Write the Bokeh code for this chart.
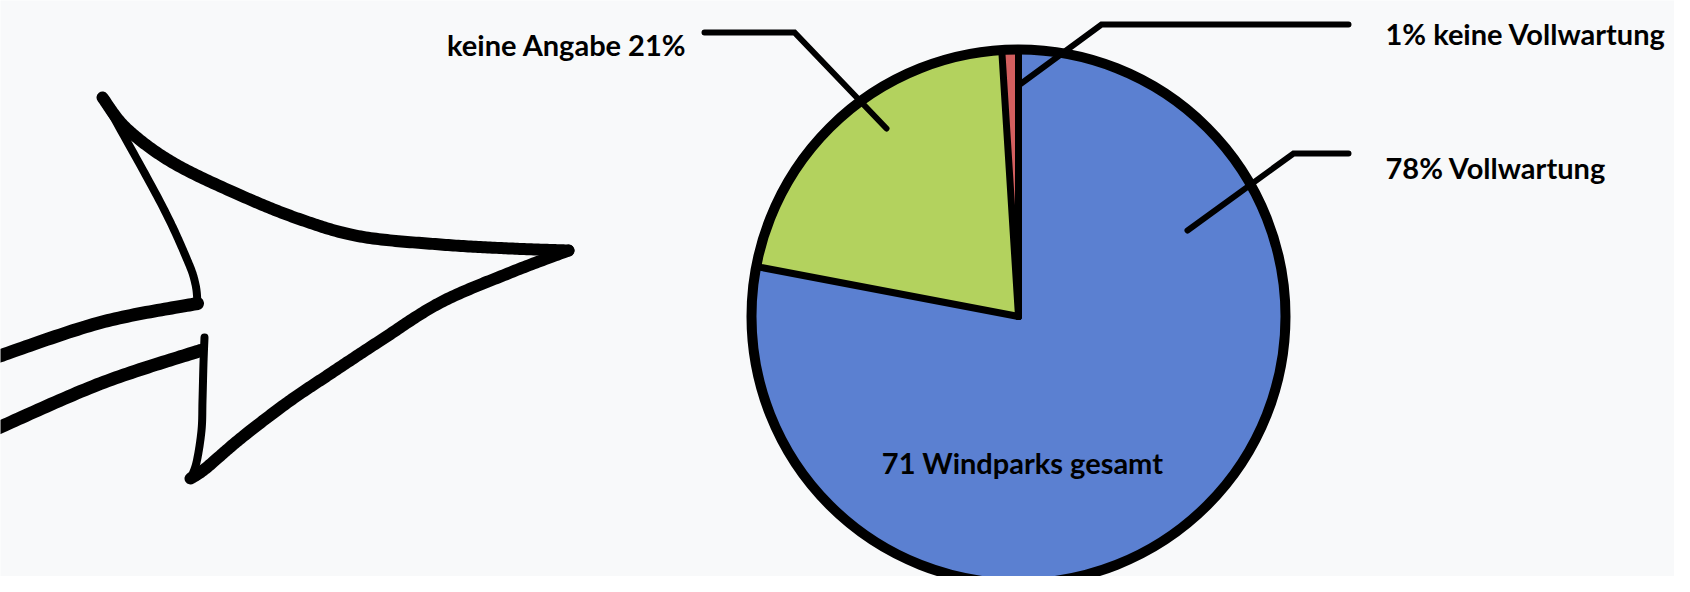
import numpy as np
from bokeh.plotting import figure
from bokeh.models import Range1d
from bokeh.core.properties import value
from bokeh.embed import file_html
from bokeh.resources import INLINE

# ---- data ----
categories = ["keine Vollwartung", "keine Angabe", "Vollwartung"]   # counter-clockwise from 12 o'clock
shares = [1, 21, 78]
colors = ["#d35f5f", "#b3d25e", "#5b80d1"]
label_texts = ["1% keine Vollwartung", "keine Angabe 21%", "78% Vollwartung"]
total_parks = 71
center_text = f"{total_parks} Windparks gesamt"

# ---- layout constants (reference pixel space, y downwards) ----
PW, PH = 1674, 576
CX, CY, R = 1018, 316, 267
FONT = value("Lato")
FS = "29px"

def Y(v):
    return -np.asarray(v, dtype=float)

p = figure(width=PW, height=PH, output_backend="svg", toolbar_location=None,
           x_range=Range1d(0, PW), y_range=Range1d(-PH, 0),
           background_fill_color="#f8f9fa", border_fill_color="#f8f9fa",
           min_border=0, outline_line_color=None)
p.axis.visible = False
p.grid.visible = False

# ---- hand-drawn arrow (decoration) ----
def smooth(pts, n=30):
    pts = np.asarray(pts, dtype=float)
    P = np.vstack([pts[0], pts, pts[-1]])
    out = []
    for i in range(1, len(P) - 2):
        p0, p1, p2, p3 = P[i - 1], P[i], P[i + 1], P[i + 2]
        t = np.linspace(0, 1, n)[:, None]
        seg = 0.5 * ((2 * p1) + (-p0 + p2) * t + (2 * p0 - 5 * p1 + 4 * p2 - p3) * t ** 2
                     + (-p0 + 3 * p1 - 3 * p2 + p3) * t ** 3)
        out.append(seg)
    return np.vstack(out)

arrow_paths = [
    ([(-8, 358), (100, 322), (197, 303)], 13),
    ([(197, 303), (195, 284), (187, 260), (160, 202), (102, 97)], 8),
    ([(102, 97), (126, 128), (172, 162), (238, 194), (300, 219), (360, 236), (440, 244), (510, 248), (568, 250)], 12),
    ([(568, 250), (510, 272), (440, 302), (380, 340), (330, 373), (287, 402), (240, 438), (205, 468), (190, 478)], 12),
    ([(190, 478), (196, 462), (201, 430), (202, 400), (203, 362), (204, 337)], 8),
    ([(200, 350), (100, 383), (-8, 430)], 13),
]
for pts, lw in arrow_paths:
    s = smooth(pts)
    p.line(s[:, 0], Y(s[:, 1]), line_color="black", line_width=lw, line_cap="round", line_join="round")

# ---- pie ----
fr = np.array(shares, dtype=float) / sum(shares)
ends = np.pi / 2 + 2 * np.pi * np.cumsum(fr)
starts = ends - 2 * np.pi * fr
p.wedge(x=[CX] * 3, y=[-CY] * 3, radius=R, start_angle=list(starts), end_angle=list(ends),
        fill_color=colors, line_color=None)
# slice borders
p.segment(x0=[CX] * 3, y0=[-CY] * 3, x1=list(CX + R * np.cos(starts)), y1=list(-CY + R * np.sin(starts)),
          line_color="black", line_width=7, line_cap="round")
p.circle(x=[CX], y=[-CY], radius=R, fill_color=None, line_color="black", line_width=10)

# ---- leader lines and labels ----
leaders = [
    [(1018, 85), (1101, 24), (1348, 24)],
    [(886, 128), (794, 32), (704, 32)],
    [(1187, 230), (1293, 153), (1348, 153)],
]
for pts in leaders:
    a = np.array(pts, dtype=float)
    p.line(a[:, 0], Y(a[:, 1]), line_color="black", line_width=6, line_cap="round", line_join="miter")

label_x = [1385, 686, 1385]
label_y = [33, 44, 167]
label_align = ["left", "right", "left"]
for t, x, y, al in zip(label_texts, label_x, label_y, label_align):
    p.text(x=[x], y=[-y], text=[t], text_font=FONT, text_font_style="bold", text_font_size=FS,
           text_align=al, text_baseline="alphabetic", text_color="black")

p.text(x=[1022], y=[-462], text=[center_text], text_font=FONT, text_font_style="bold",
       text_font_size=FS, text_align="center", text_baseline="alphabetic", text_color="black")

open("out.html", "w").write(file_html(p, INLINE))
